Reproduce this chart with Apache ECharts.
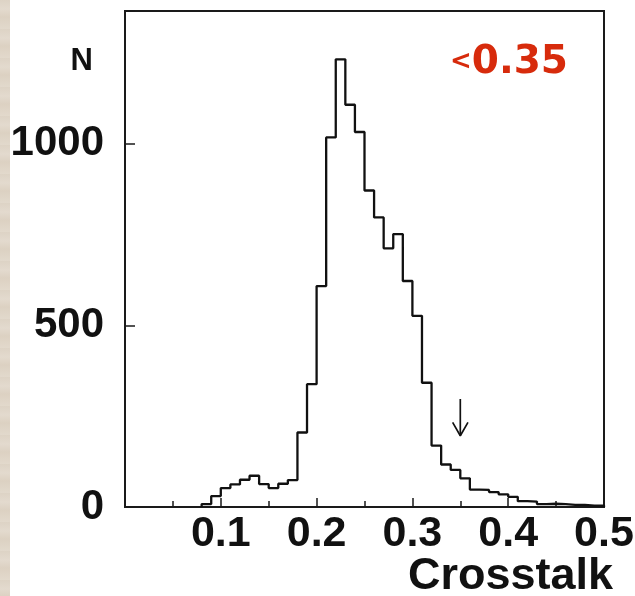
<!DOCTYPE html>
<html>
<head>
<meta charset="utf-8">
<script src="https://cdn.jsdelivr.net/npm/echarts@6/dist/echarts.min.js"></script>
<style>
  html, body { margin: 0; padding: 0; }
  body {
    width: 635px; height: 596px; overflow: hidden;
    background:
      linear-gradient(to right, rgba(0,0,0,0) 0, rgba(0,0,0,0) 10px, #ffffff 10px),
      repeating-linear-gradient(to bottom, #ddd3c5 0px, #e3dace 9px, #dcd1c2 17px, #e2d9cc 29px),
      #e0d6c8;
  }
  #chart { width: 635px; height: 596px; }
</style>
</head>
<body>
<div id="chart"></div>
<script>
// Histogram bins (left edges) and counts
const binLeft = [0.08,0.09,0.10,0.11,0.12,0.13,0.14,0.15,0.16,0.17,
                 0.18,0.19,0.20,0.21,0.22,0.23,0.24,0.25,0.26,0.27,
                 0.28,0.29,0.30,0.31,0.32,0.33,0.34,0.35,0.36,0.37,
                 0.38,0.39,0.40,0.41,0.42,0.43,0.44,0.45,0.46,0.47,
                 0.48,0.49];
const counts  = [8,30,52,62,75,86,63,52,64,74,
                 205,338,608,1017,1232,1107,1032,871,797,712,
                 751,622,526,342,169,117,102,79,48,47,
                 41,35,28,16,15,8,9,8,6,6,
                 4,4];
const binEnd = 0.5;
const xTickLabels = ['0.1','0.2','0.3','0.4','0.5'];
const yTickLabels = ['0','500','1000'];
const arrowShaft = [[0.35, 297], [0.35, 196]];
const arrowHead = [[0.342, 233], [0.35, 196], [0.358, 233]];
const cutLabel = ['<', '0.35'];

const histPoints = [[binLeft[0], 0]];
binLeft.forEach((x, i) => histPoints.push([x, counts[i]]));
histPoints.push([binEnd, counts[counts.length - 1]]);
histPoints.push([binEnd, 0]);

const chart = echarts.init(document.getElementById('chart'), null, { renderer: 'canvas' });
const boldFont = '"Liberation Sans", Arial, Helvetica, sans-serif';
chart.setOption({
  backgroundColor: 'transparent',
  animation: false,
  grid: {
    left: 125, right: 31, top: 11, bottom: 89,
    containLabel: false, outerBoundsMode: 'none',
    show: true, backgroundColor: '#ffffff',
    borderColor: '#1a1a1a', borderWidth: 2
  },
  xAxis: {
    type: 'value', min: 0, max: 0.5, interval: 0.1,
    name: 'Crosstalk', nameLocation: 'end', nameGap: 9, nameMoveOverlap: false,
    nameTextStyle: {
      fontFamily: boldFont, fontWeight: 'bold', fontSize: 45, color: '#111',
      align: 'right', verticalAlign: 'top', padding: [47, 0, 0, 0]
    },
    axisLine: { show: true, onZero: false, lineStyle: { color: '#1a1a1a', width: 2 } },
    axisTick: { show: true, inside: true, length: 9, lineStyle: { color: '#1a1a1a', width: 1.5 } },
    minorTick: { show: true, splitNumber: 2, length: 6, lineStyle: { color: '#1a1a1a', width: 1.5 } },
    splitLine: { show: false },
    axisLabel: {
      fontFamily: boldFont, fontWeight: 'bold', fontSize: 43, color: '#111', margin: 6,
      formatter: v => { const s = v.toFixed(1); return xTickLabels.includes(s) ? s : ''; }
    }
  },
  yAxis: {
    type: 'value', min: 0, max: 1365, interval: 500,
    name: 'N', nameLocation: 'end', nameGap: -50,
    nameTextStyle: {
      fontFamily: boldFont, fontWeight: 'bold', fontSize: 31, color: '#111',
      align: 'right', verticalAlign: 'middle', padding: [0, 32, 0, 0]
    },
    axisLine: { show: true, lineStyle: { color: '#1a1a1a', width: 2 } },
    axisTick: { show: true, inside: true, length: 10, lineStyle: { color: '#1a1a1a', width: 1.5 } },
    splitLine: { show: false },
    axisLabel: {
      fontFamily: boldFont, fontWeight: 'bold', fontSize: 42, color: '#111', margin: 21,
      padding: [9, 0, 0, 0],
      formatter: v => { const s = String(Math.round(v)); return yTickLabels.includes(s) ? s : ''; }
    }
  },
  series: [
    {
      type: 'line', step: 'end', data: histPoints, symbol: 'none',
      lineStyle: { color: '#111', width: 2.3 }, z: 3
    },
    {
      type: 'line', data: arrowShaft, symbol: 'none',
      lineStyle: { color: '#111', width: 1.7 }, z: 4
    },
    {
      type: 'line', data: arrowHead, symbol: 'none',
      lineStyle: { color: '#111', width: 1.7 }, z: 4
    }
  ],
  graphic: [
    {
      type: 'text', left: 450, top: 43, z: 10,
      style: {
        text: '{a|' + cutLabel[0] + '}{b|' + cutLabel[1] + '}',
        rich: {
          a: { fontFamily: '"DejaVu Sans", sans-serif', fontWeight: 'bold', fontSize: 26,
               fill: '#d72b0c', verticalAlign: 'middle', padding: [0, 0, 0, 0] },
          b: { fontFamily: '"DejaVu Sans", sans-serif', fontWeight: 'bold', fontSize: 39,
               fill: '#d72b0c' }
        }
      }
    }
  ]
});
</script>
</body>
</html>
